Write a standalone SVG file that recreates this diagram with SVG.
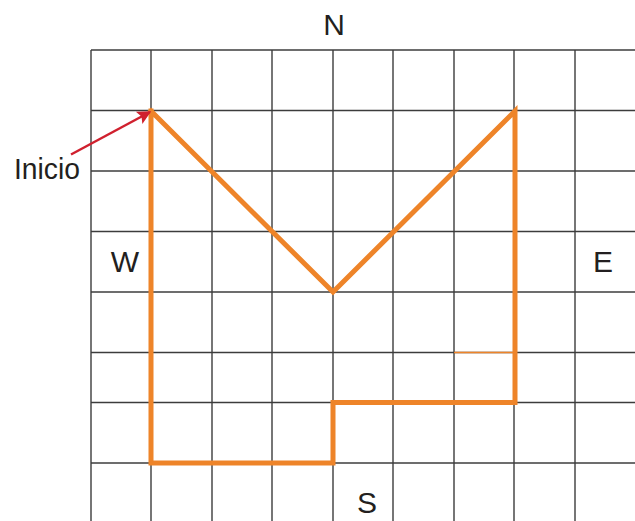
<svg xmlns="http://www.w3.org/2000/svg" width="635" height="521" viewBox="0 0 635 521">
<style>
.grid line{stroke:#3c3c3c;stroke-width:1.4}
.lbl{font-family:"Liberation Sans",Arial,sans-serif;font-size:30px;fill:#231f20}
.route{fill:none;stroke:#ee8429;stroke-width:5;stroke-linejoin:miter;stroke-linecap:square}
</style>
<defs>
<marker id="ah" viewBox="0 0 10 10" refX="9" refY="5" markerWidth="6.5" markerHeight="5.5" orient="auto" markerUnits="strokeWidth">
<path d="M0,0 L10,5 L0,10 L2,5 Z" fill="#d0202e"/>
</marker>
</defs>
<rect width="635" height="521" fill="#fff"/>
<g id="grid" class="grid">
<line x1="91" y1="50" x2="91" y2="521"/>
<line x1="151" y1="50" x2="151" y2="521"/>
<line x1="212" y1="50" x2="212" y2="521"/>
<line x1="272" y1="50" x2="272" y2="521"/>
<line x1="333" y1="50" x2="333" y2="521"/>
<line x1="393" y1="50" x2="393" y2="521"/>
<line x1="454" y1="50" x2="454" y2="521"/>
<line x1="514" y1="50" x2="514" y2="521"/>
<line x1="575" y1="50" x2="575" y2="521"/>
<line x1="91" y1="50" x2="635" y2="50"/>
<line x1="91" y1="110.5" x2="635" y2="110.5"/>
<line x1="91" y1="171" x2="635" y2="171"/>
<line x1="91" y1="231.5" x2="635" y2="231.5"/>
<line x1="91" y1="292" x2="635" y2="292"/>
<line x1="91" y1="352.5" x2="635" y2="352.5"/>
<line x1="91" y1="402.5" x2="635" y2="402.5"/>
<line x1="91" y1="463" x2="635" y2="463"/>
</g>
<g id="route">
<path class="route" d="M151,111 L151,463 L333,463 L333,402.5 L515,402.5 L515,111 L333,292 L151,111"/>
<line x1="454" y1="352.5" x2="514" y2="352.5" stroke="#ee8429" stroke-width="1.5"/>
</g>
<g id="connectors">
<line x1="71" y1="154.5" x2="150" y2="112" stroke="#d0202e" stroke-width="2.5" marker-end="url(#ah)"/>
</g>
<g id="labels">
<text id="lbl-N" class="lbl" x="334" y="35" text-anchor="middle">N</text>
<text id="lbl-S" class="lbl" x="367" y="513" text-anchor="middle">S</text>
<text id="lbl-W" class="lbl" x="125" y="272" text-anchor="middle">W</text>
<text id="lbl-E" class="lbl" x="603" y="272" text-anchor="middle">E</text>
<text id="lbl-inicio" class="lbl" x="14" y="179" textLength="66" lengthAdjust="spacingAndGlyphs">Inicio</text>
</g>
</svg>
